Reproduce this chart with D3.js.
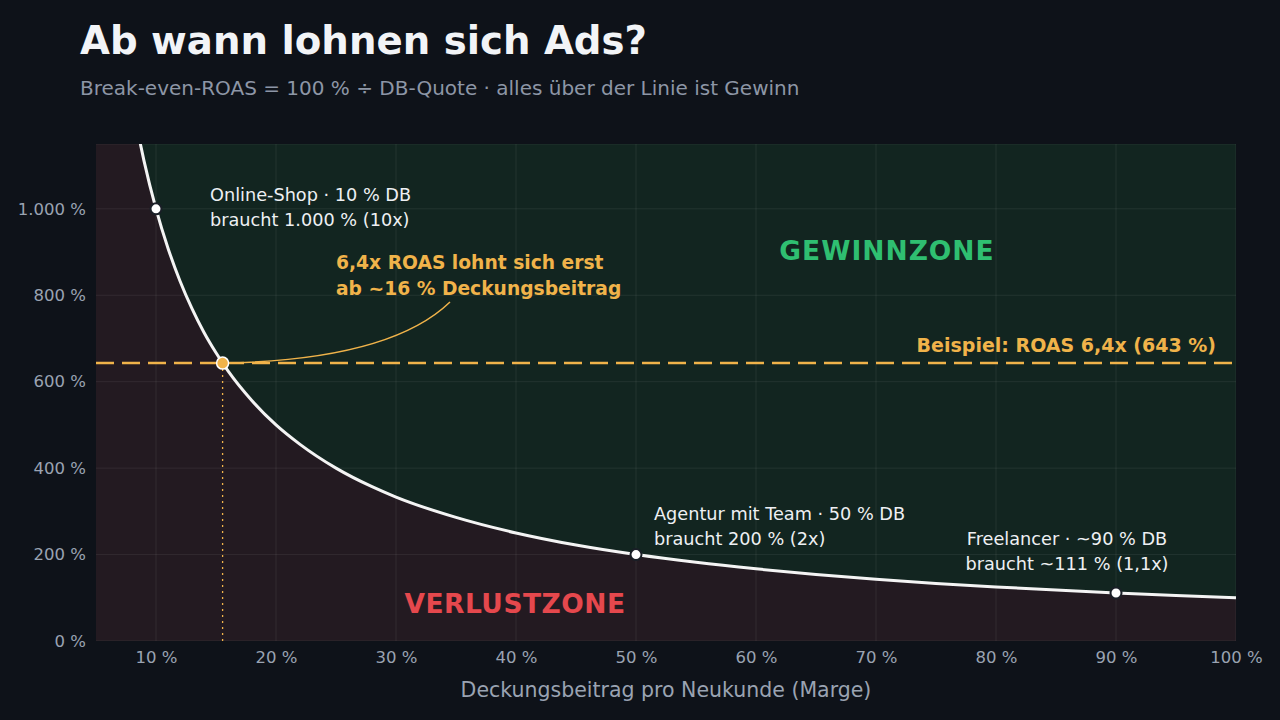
<!DOCTYPE html>
<html><head><meta charset="utf-8">
<script src="https://cdn.jsdelivr.net/npm/d3@7"></script>
<style>body{margin:0;background:#0e1219;}text{font-family:"DejaVu Sans",sans-serif;}</style>
</head><body><svg id="c" width="1280" height="720"></svg>
<script>
const margins=[8.6,9,10,11,12,13,14,15,16,18,20,22,25,28,30,35,40,45,50,55,60,65,70,75,80,85,90,95,100];
const roas=[1163,1111,1000,909,833,769,714,667,625,556,500,455,400,357,333,286,250,222,200,182,167,154,143,133,125,118,111,105,100];
const xTicks=[10,20,30,40,50,60,70,80,90,100];
const yTicks=[0,200,400,600,800,1000];
const examples=[{m:10,r:1000,l1:"Online-Shop · 10 % DB",l2:"braucht 1.000 % (10x)"},{m:50,r:200,l1:"Agentur mit Team · 50 % DB",l2:"braucht 200 % (2x)"},{m:90,r:111,l1:"Freelancer · ~90 % DB",l2:"braucht ~111 % (1,1x)"}];
const targetRoas=643, breakEven=15.55;
const svg=d3.select("#c");
svg.append("rect").attr("width",1280).attr("height",720).attr("fill","#0e1219");
const L=96,R=1236,T=144,B=641;
const x=d3.scaleLinear().domain([5,100]).range([L,R]);
const y=d3.scaleLinear().domain([0,1150]).range([B,T]);
const data=margins.map((m,i)=>({m,r:roas[i]}));
svg.append("defs").append("clipPath").attr("id","cp").append("rect").attr("x",L).attr("y",T).attr("width",R-L).attr("height",B-T);
const g=svg.append("g").attr("clip-path","url(#cp)");
g.append("rect").attr("x",L).attr("y",T).attr("width",R-L).attr("height",B-T).attr("fill","#122520");
const cur=d3.curveMonotoneX;
g.append("path").datum([{m:5,r:2000},...data]).attr("fill","#231a21").attr("d",d3.area().x(d=>x(d.m)).y0(B).y1(d=>y(d.r)).curve(cur));
xTicks.forEach(t=>g.append("line").attr("x1",x(t)).attr("x2",x(t)).attr("y1",T).attr("y2",B).attr("stroke","#ffffff").attr("stroke-opacity",0.07));
yTicks.concat([1150]).forEach(t=>g.append("line").attr("x1",L).attr("x2",R).attr("y1",y(t)).attr("y2",y(t)).attr("stroke","#ffffff").attr("stroke-opacity",0.07));
g.append("line").attr("x1",x(breakEven)).attr("x2",x(breakEven)).attr("y1",y(targetRoas)).attr("y2",B).attr("stroke","#f0b34a").attr("stroke-width",1.3).attr("stroke-dasharray","2,4");
g.append("line").attr("x1",L).attr("x2",R).attr("y1",y(targetRoas)).attr("y2",y(targetRoas)).attr("stroke","#f0b34a").attr("stroke-width",2.5).attr("stroke-dasharray","18,8");
g.append("path").datum(data).attr("fill","none").attr("stroke","#f4f4f4").attr("stroke-width",3).attr("d",d3.line().x(d=>x(d.m)).y(d=>y(d.r)).curve(cur));
const ax=svg.append("g").attr("transform",`translate(0,${B})`).call(d3.axisBottom(x).tickValues(xTicks).tickSize(0).tickPadding(10).tickFormat(d=>d+" %"));
const ay=svg.append("g").attr("transform",`translate(${L},0)`).call(d3.axisLeft(y).tickValues(yTicks).tickSize(0).tickPadding(10).tickFormat(d=>d3.format(",")(d).replace(/,/g,".")+" %"));
[ax,ay].forEach(a=>{a.select(".domain").remove();a.selectAll("text").attr("fill","#9aa3b2").attr("font-size",16.5).attr("font-family","DejaVu Sans");});
svg.append("text").attr("x",(L+R)/2-0).attr("y",697).attr("text-anchor","middle").attr("fill","#9aa3b2").attr("font-size",20.5).text("Deckungsbeitrag pro Neukunde (Marge)");
svg.append("text").attr("transform","translate(-14,392) rotate(-90)").attr("text-anchor","middle").attr("fill","#9aa3b2").attr("font-size",20).text("Benötigter ROAS (Break-even)");
svg.append("text").attr("x",80).attr("y",54).attr("fill","#f2f4f7").attr("font-size",38.7).attr("font-weight","bold").text("Ab wann lohnen sich Ads?");
svg.append("text").attr("x",80).attr("y",95).attr("fill","#8d96a6").attr("font-size",20).text("Break-even-ROAS = 100 % ÷ DB-Quote · alles über der Linie ist Gewinn");
svg.append("text").attr("x",887).attr("y",260).attr("text-anchor","middle").attr("fill","#2fbf71").attr("font-size",26.5).attr("font-weight","bold").attr("letter-spacing",1).text("GEWINNZONE");
svg.append("text").attr("x",515).attr("y",613).attr("text-anchor","middle").attr("fill","#e5484d").attr("font-size",26.5).attr("font-weight","bold").attr("letter-spacing",0.5).text("VERLUSTZONE");
svg.append("text").attr("x",1216).attr("y",352).attr("text-anchor","end").attr("fill","#f0b34a").attr("font-size",19).attr("font-weight","bold").text("Beispiel: ROAS 6,4x (643 %)");
svg.append("path").attr("d",`M${x(breakEven)},${y(targetRoas)} Q390,360 450,302`).attr("fill","none").attr("stroke","#f0b34a").attr("stroke-width",1.5);
svg.append("text").attr("x",336).attr("y",269).attr("fill","#f0b34a").attr("font-size",18.7).attr("font-weight","bold").text("6,4x ROAS lohnt sich erst");
svg.append("text").attr("x",336).attr("y",295).attr("fill","#f0b34a").attr("font-size",18.7).attr("font-weight","bold").text("ab ~16 % Deckungsbeitrag");
svg.append("circle").attr("cx",x(breakEven)).attr("cy",y(targetRoas)).attr("r",6).attr("fill","#f0b34a").attr("stroke","#fff").attr("stroke-width",1.5);
const lab=[[210,201,"start"],[654,520,"start"],[1067,545,"middle"]];
examples.forEach((e,i)=>{
 svg.append("circle").attr("cx",x(e.m)).attr("cy",y(e.r)).attr("r",5.5).attr("fill","#fff").attr("stroke","#1a1f27").attr("stroke-width",2);
 const [lx,ly,an]=lab[i];
 svg.append("text").attr("x",lx).attr("y",ly).attr("text-anchor",an).attr("fill","#eef0f3").attr("font-size",17.7).text(e.l1);
 svg.append("text").attr("x",lx).attr("y",ly+25).attr("text-anchor",an).attr("fill","#eef0f3").attr("font-size",17.7).text(e.l2);
});
</script></body></html>
